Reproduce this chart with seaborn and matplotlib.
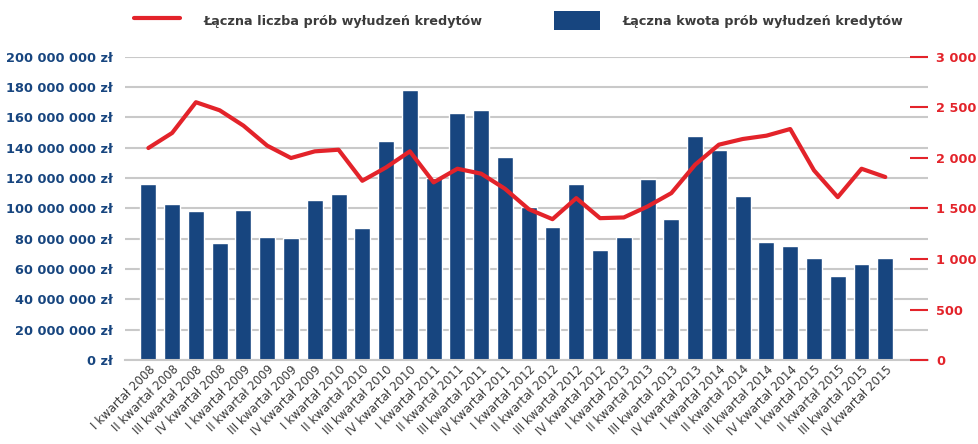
import numpy as np
import matplotlib
matplotlib.use("Agg")
import matplotlib.pyplot as plt
import seaborn as sns
from matplotlib.lines import Line2D
from matplotlib.patches import Patch
from matplotlib.ticker import FuncFormatter, MultipleLocator

# -------------------------------
# Data
# -------------------------------
roman = ["I", "II", "III", "IV"]
years = list(range(2008, 2016))
quarters = [f"{r} kwartał {y}" for y in years for r in roman]

# total amount of attempted credit fraud (zł)
amounts = [
    116.3, 103.1, 98.5, 77.3, 99.1, 81.3, 80.6, 105.7,
    109.7, 87.2, 144.7, 177.8, 120.0, 163.2, 165.2, 134.2,
    101.1, 87.9, 116.3, 72.7, 81.3, 119.6, 93.2, 148.0,
    138.8, 108.4, 78.0, 75.3, 67.4, 55.5, 63.4, 67.4,
]
amounts = [a * 1e6 for a in amounts]

# total number of attempts
counts = [
    2098, 2247, 2551, 2471, 2319, 2121, 1999, 2065,
    2081, 1774, 1906, 2065, 1758, 1893, 1844, 1695,
    1493, 1394, 1602, 1404, 1411, 1520, 1652, 1933,
    2131, 2187, 2220, 2286, 1877, 1612, 1893, 1811,
]

label_line = "Łączna liczba prób wyłudzeń kredytów"
label_bar = "Łączna kwota prób wyłudzeń kredytów"

# -------------------------------
# Style
# -------------------------------
BLUE = "#17457F"
RED = "#E3232A"
GRID = "#C9C9C9"
TXT = "#3C3C3C"

sns.set_theme(style="white")
plt.rcParams["font.family"] = ["DejaVu Sans"]

fig = plt.figure(figsize=(9.79, 4.44), dpi=100)
ax = fig.add_axes([0.128, 0.189, 0.820, 0.683])

sns.barplot(x=quarters, y=amounts, color=BLUE, saturation=1, width=0.67, ax=ax, zorder=2)

ax.set_ylim(0, 200e6)
ax.yaxis.set_major_locator(MultipleLocator(20e6))
ax.yaxis.set_major_formatter(FuncFormatter(lambda v, p: f"{int(v):,}".replace(",", " ") + " zł"))
ax.grid(axis="y", color=GRID, linewidth=1.5, zorder=0)
ax.set_axisbelow(True)
ax.set_xlim(-0.97, 32.8)
for s in ["top", "right", "left"]:
    ax.spines[s].set_visible(False)
ax.spines["bottom"].set_color(GRID)
ax.spines["bottom"].set_linewidth(1.5)
ax.tick_params(axis="y", length=0, pad=9, labelsize=9.3, labelcolor=BLUE)
for t in ax.get_yticklabels():
    t.set_fontweight("bold")
ax.tick_params(axis="x", length=0, pad=2, labelsize=8.5, labelcolor=TXT)
plt.setp(ax.get_xticklabels(), rotation=45, ha="right", rotation_mode="anchor")
ax.set_xlabel("")
ax.set_ylabel("")

ax2 = ax.twinx()
sns.lineplot(x=np.arange(len(counts)), y=counts, color=RED, linewidth=3, ax=ax2, zorder=3)
ax2.set_ylim(0, 3000)
ax2.yaxis.set_major_locator(MultipleLocator(500))
ax2.yaxis.set_major_formatter(FuncFormatter(lambda v, p: f"{int(v):,}".replace(",", " ")))
for s in ax2.spines.values():
    s.set_visible(False)
ax2.tick_params(axis="y", direction="in", length=13, width=1.5, color=RED,
                pad=6, labelsize=9.3, labelcolor=RED)
for t in ax2.get_yticklabels():
    t.set_fontweight("bold")
ax2.set_ylabel("")

# -------------------------------
# Legend
# -------------------------------
handles = [Line2D([], [], color=RED, linewidth=3),
           Patch(facecolor=BLUE, edgecolor="none")]
fig.legend(handles, [label_line, label_bar], loc="upper center", ncol=2,
           bbox_to_anchor=(0.53, 1.0), frameon=False, handlelength=3.6,
           handleheight=1.8, handletextpad=1.8, columnspacing=5.6,
           prop={"weight": "bold", "size": 9.2}, labelcolor=TXT)

fig.savefig("out.png", dpi=100)
